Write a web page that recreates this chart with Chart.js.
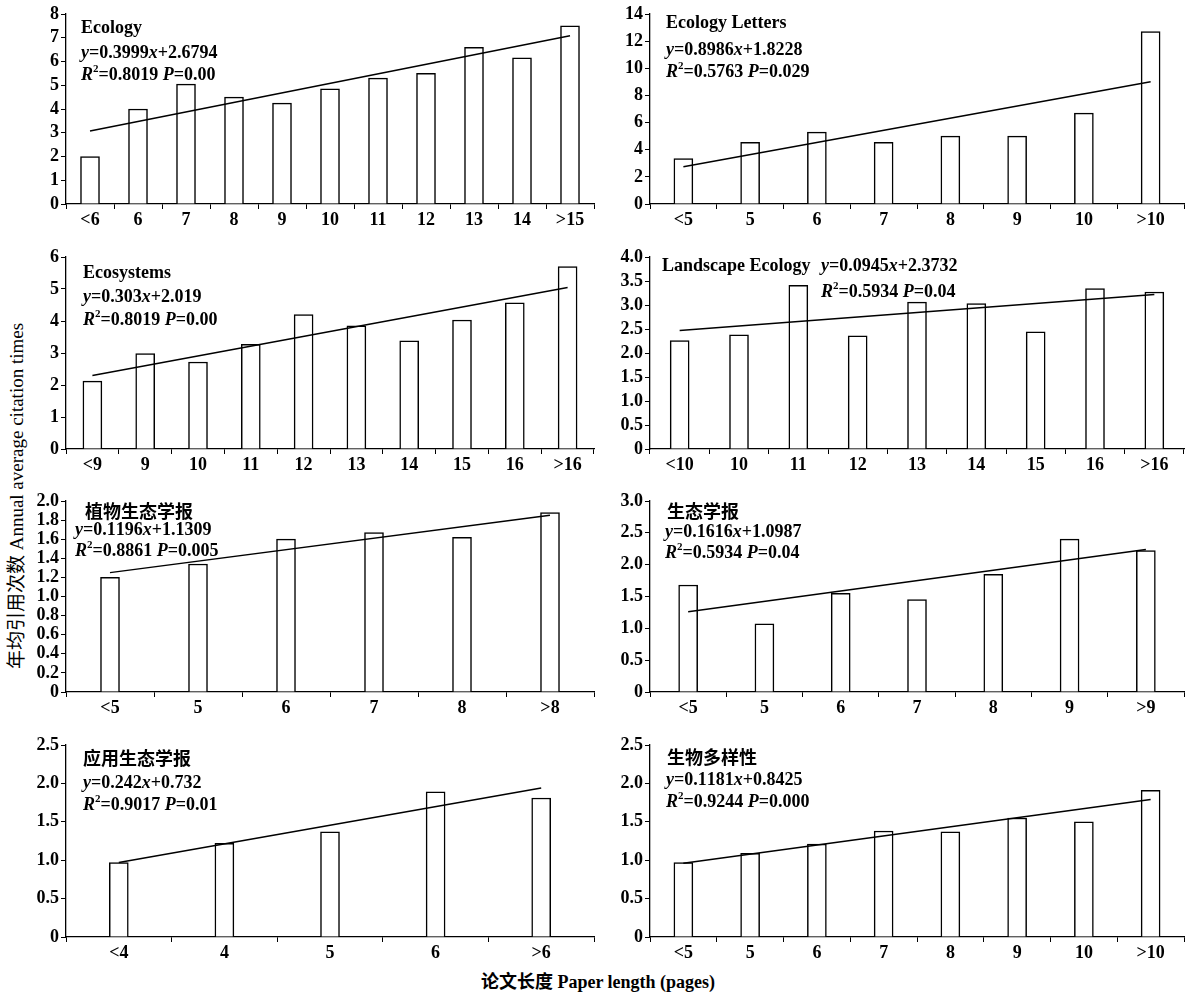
<!DOCTYPE html>
<html>
<head>
<meta charset="utf-8">
<script src="https://cdn.jsdelivr.net/npm/chart.js@4.4.1/dist/chart.umd.min.js"></script>
<style>
  body { margin: 0; background: #fff; width: 1189px; height: 994px; position: relative; overflow: hidden; }
  canvas { position: absolute; }
  .axis-title { position: absolute; font: bold 18px 'Liberation Serif', 'Noto Sans CJK SC'; color: #000; white-space: nowrap; transform: translate(-50%, -50%); }
  #ytitle { left: 14px; top: 496px; font-weight: normal; font-size: 19px; transform: translate(-50%, -50%) rotate(-90deg); }
  #xtitle { left: 598px; top: 980px; }
</style>
</head>
<body>
<div class="axis-title" id="ytitle">年均引用次数 Annual average citation times</div>
<div class="axis-title" id="xtitle">论文长度 Paper length (pages)</div>
<script>
// 分类（论文页数）
const catEcology = ['<6', '6', '7', '8', '9', '10', '11', '12', '13', '14', '>15'];
const catEcolLetters = ['<5', '5', '6', '7', '8', '9', '10', '>10'];
const catEcosystems = ['<9', '9', '10', '11', '12', '13', '14', '15', '16', '>16'];
const catLandscape = ['<10', '10', '11', '12', '13', '14', '15', '16', '>16'];
const catZhiwu = ['<5', '5', '6', '7', '8', '>8'];
const catShengtai = ['<5', '5', '6', '7', '8', '9', '>9'];
const catYingyong = ['<4', '4', '5', '6', '>6'];
const catShengwu = ['<5', '5', '6', '7', '8', '9', '10', '>10'];

// 年均引用次数
const valEcology = [2.0, 4.0, 5.05, 4.5, 4.25, 4.85, 5.3, 5.5, 6.6, 6.15, 7.5];
const valEcolLetters = [3.35, 4.55, 5.3, 4.55, 5.0, 5.0, 6.7, 12.7];
const valEcosystems = [2.12, 2.98, 2.72, 3.27, 4.2, 3.85, 3.38, 4.03, 4.57, 5.7];
const valLandscape = [2.26, 2.38, 3.41, 2.36, 3.06, 3.03, 2.44, 3.34, 3.27];
const valZhiwu = [1.2, 1.34, 1.6, 1.67, 1.62, 1.88];
const valShengtai = [1.68, 1.07, 1.55, 1.45, 1.85, 2.4, 2.22];
const valYingyong = [0.97, 1.22, 1.37, 1.89, 1.81];
const valShengwu = [0.97, 1.09, 1.21, 1.38, 1.37, 1.55, 1.5, 1.91];

// 趋势线起点和终点
const trendEcology = [3.07, 7.08];
const trendEcolLetters = [2.75, 9.0];
const trendEcosystems = [2.3, 5.05];
const trendLandscape = [2.47, 3.22];
const trendZhiwu = [1.25, 1.85];
const trendShengtai = [1.26, 2.24];
const trendYingyong = [0.97, 1.94];
const trendShengwu = [0.96, 1.79];

// 纵轴刻度
const yMax = [8, 14, 6, 4, 2, 3, 2.5, 2.5];
const yStep = [1, 2, 1, 0.5, 0.2, 0.5, 0.5, 0.5];
const yDecimals = [0, 0, 0, 1, 1, 1, 1, 1];

// 图中文字
const titles = ['Ecology', 'Ecology Letters', 'Ecosystems', 'Landscape Ecology', '植物生态学报', '生态学报', '应用生态学报', '生物多样性'];
const equations = ['y=0.3999x+2.6794', 'y=0.8986x+1.8228', 'y=0.303x+2.019', 'y=0.0945x+2.3732',
  'y=0.1196x+1.1309', 'y=0.1616x+1.0987', 'y=0.242x+0.732', 'y=0.1181x+0.8425'];
const stats = ['R²=0.8019 P=0.00', 'R²=0.5763 P=0.029', 'R²=0.8019 P=0.00', 'R²=0.5934 P=0.04',
  'R²=0.8861 P=0.005', 'R²=0.5934 P=0.04', 'R²=0.9017 P=0.01', 'R²=0.9244 P=0.000'];

const categories = [catEcology, catEcolLetters, catEcosystems, catLandscape, catZhiwu, catShengtai, catYingyong, catShengwu];
const values = [valEcology, valEcolLetters, valEcosystems, valLandscape, valZhiwu, valShengtai, valYingyong, valShengwu];
const trends = [trendEcology, trendEcolLetters, trendEcosystems, trendLandscape, trendZhiwu, trendShengtai, trendYingyong, trendShengwu];

// 布局
const rowTop = [14, 257, 501, 745];
const rowBottom = [204, 449, 692, 937];
const colLeft = [0, 596];
const colWidth = [596, 593];
const yAxisWidth = [66, 54];
const padRight = [2, 5];
// 文字位置（相对绘图区左上角）：标题、方程、R²
const textPos = [
  [[15, 14], [15, 39], [15, 61]],
  [[16, 9], [16, 36], [16, 58]],
  [[17, 16], [17, 40], [17, 63]],
  [[12, 9], [171, 9], [171, 35]],
  [[19, 10], [9, 29], [9, 50]],
  [[17, 10], [15, 31], [15, 52]],
  [[17, 13], [17, 38], [17, 60]],
  [[17, 12], [16, 35], [16, 57]]
];

const tickFont = { family: 'Liberation Serif', size: 18, weight: 'bold' };

// 画带斜体和上标的文字
function drawRich(ctx, str, x, y, italic) {
  let cx = x;
  for (const ch of str) {
    if (ch === '²') {
      ctx.font = 'bold 11px "Liberation Serif"';
      ctx.fillText('2', cx, y - 6);
      cx += ctx.measureText('2').width;
      continue;
    }
    ctx.font = (italic && /[A-Za-z]/.test(ch) ? 'italic ' : '') + 'bold 18px "Liberation Serif"';
    ctx.fillText(ch, cx, y);
    cx += ctx.measureText(ch).width;
  }
}

const panelText = {
  id: 'panelText',
  afterDatasetsDraw(chart, args, opts) {
    const ctx = chart.ctx, a = chart.chartArea;
    ctx.save();
    ctx.fillStyle = '#000';
    ctx.textBaseline = 'middle';
    ctx.textAlign = 'left';
    const [t, e, s] = opts.pos;
    if (/[\u4e00-\u9fff]/.test(opts.title)) {
      ctx.font = 'bold 18px "Noto Sans CJK SC"';
      ctx.fillText(opts.title, a.left + t[0], a.top + t[1]);
    } else {
      drawRich(ctx, opts.title, a.left + t[0], a.top + t[1], false);
    }
    drawRich(ctx, opts.eq, a.left + e[0], a.top + e[1], true);
    drawRich(ctx, opts.stat, a.left + s[0], a.top + s[1], true);
    ctx.restore();
  }
};

for (let i = 0; i < 8; i++) {
  const row = Math.floor(i / 2), col = i % 2;
  const canvas = document.createElement('canvas');
  const h = rowBottom[row] - rowTop[row] + 13 + 36;
  canvas.width = colWidth[col];
  canvas.height = h;
  canvas.style.left = colLeft[col] + 'px';
  canvas.style.top = (rowTop[row] - 13) + 'px';
  document.body.appendChild(canvas);

  const n = categories[i].length;
  const trendData = categories[i].map((c, k) => k === 0 ? trends[i][0] : (k === n - 1 ? trends[i][1] : null));
  const dec = yDecimals[i];
  const yw = yAxisWidth[col];
  const tickVals = [];
  for (let k = 0; k <= Math.round(yMax[i] / yStep[i]); k++) tickVals.push(+(k * yStep[i]).toFixed(2));

  new Chart(canvas, {
    type: 'bar',
    data: {
      labels: categories[i],
      datasets: [
        { type: 'line', data: trendData, borderColor: '#000', borderWidth: 1.5, pointRadius: 0, spanGaps: true, order: 0 },
        { type: 'bar', data: values[i], backgroundColor: '#fff', borderColor: '#000', borderWidth: 1.5, barThickness: 19, order: 1 }
      ]
    },
    options: {
      responsive: false,
      animation: false,
      layout: { padding: { top: 13, right: padRight[col], left: 0, bottom: 0 } },
      plugins: {
        legend: { display: false },
        tooltip: { enabled: false },
        panelText: { title: titles[i], eq: equations[i], stat: stats[i], pos: textPos[i] }
      },
      scales: {
        x: {
          grid: { offset: true, drawOnChartArea: false, tickLength: 5, color: '#000' },
          border: { color: '#000', width: 1.3 },
          ticks: { font: tickFont, color: '#000', padding: 1, maxRotation: 0, autoSkip: false },
          afterFit(s) { s.height = 36; }
        },
        y: {
          min: 0,
          max: yMax[i],
          grid: { drawOnChartArea: false, tickLength: 5, color: '#000' },
          border: { color: '#000', width: 1.3 },
          ticks: {
            font: tickFont,
            color: '#000',
            padding: 2,
            autoSkip: false,
            callback: v => v === 0 ? '0' : v.toFixed(dec)
          },
          afterBuildTicks(s) { s.ticks = tickVals.map(v => ({ value: v })); },
          afterFit(s) { s.width = yw; }
        }
      }
    },
    plugins: [panelText]
  });
}
</script>
</body>
</html>
